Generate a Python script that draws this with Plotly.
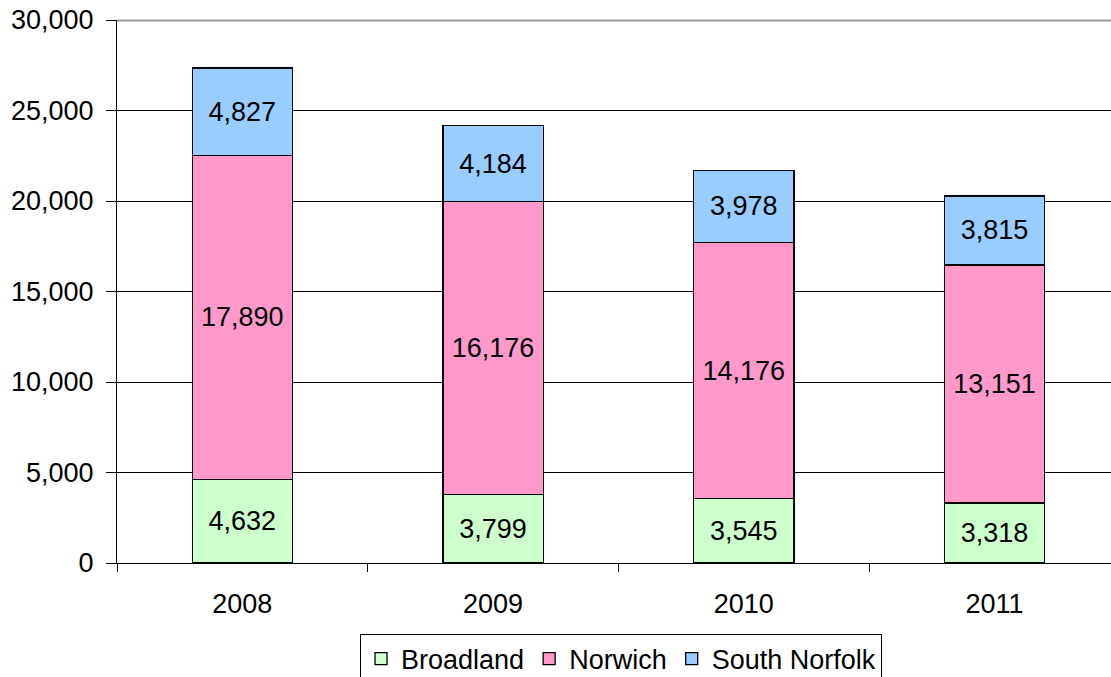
import plotly.graph_objects as go

years = ["2008", "2009", "2010", "2011"]
broadland = [4632, 3799, 3545, 3318]
norwich = [17890, 16176, 14176, 13151]
south_norfolk = [4827, 4184, 3978, 3815]

series = [
    ("Broadland", broadland, "#CCFFCC"),
    ("Norwich", norwich, "#FF99CC"),
    ("South Norfolk", south_norfolk, "#99CCFF"),
]

FONT = "Liberation Sans, Arial, sans-serif"
FS = 27
fig = go.Figure()
for name, vals, col in series:
    fig.add_trace(go.Bar(
        x=years, y=vals, name=name,
        marker=dict(color=col, line=dict(color="black", width=1.3)),
        text=vals, texttemplate="%{y:,}",
        textposition="inside", insidetextanchor="middle", textangle=0,
        constraintext="none",
        textfont=dict(family=FONT, size=FS, color="black"),
    ))

fig.update_layout(
    barmode="stack", bargap=0.6,
    width=1111, height=677,
    margin=dict(l=117, r=0, t=20, b=114, autoexpand=False),
    paper_bgcolor="white", plot_bgcolor="white",
    font=dict(family=FONT, size=FS, color="black"),
    showlegend=True,
    legend=dict(
        orientation="h", x=0.2445, xanchor="left", y=-0.13, yanchor="top",
        bordercolor="black", borderwidth=1, font=dict(size=FS),
        traceorder="normal", tracegroupgap=0,
    ),
)
fig.update_xaxes(
    type="category", range=[-0.5, 3.465], automargin=False,
    showline=True, linecolor="black", linewidth=1,
    ticks="outside", tickson="boundaries", ticklen=8, tickcolor="black",
    showgrid=False, tickfont=dict(size=FS), ticklabelstandoff=17,
)
fig.update_yaxes(
    range=[0, 30000], dtick=5000, tickformat=",", automargin=False,
    showline=True, linecolor="black", linewidth=1,
    ticks="outside", ticklen=10, tickcolor="black",
    showgrid=True, gridcolor="black", gridwidth=1,
    zeroline=False, tickfont=dict(size=FS), ticklabelstandoff=7,
)
fig.add_shape(type="line", xref="paper", yref="paper", x0=0, x1=1, y0=0.999, y1=0.999,
              line=dict(color="#999999", width=2), layer="above")

fig.write_html(
    "out.html",
    config={"displayModeBar": False},
    post_script="document.body.style.margin='0';document.body.style.overflow='hidden';",
)
